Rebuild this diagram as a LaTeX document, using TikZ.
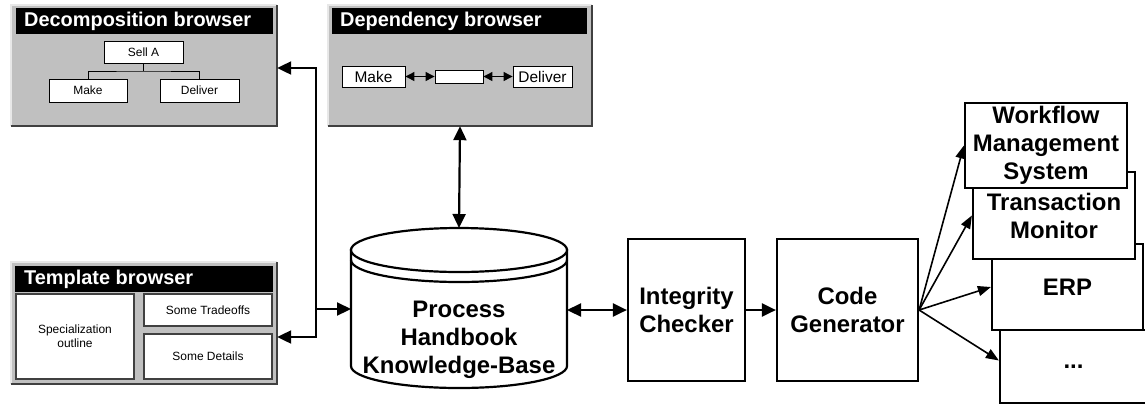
\documentclass[tikz,border=0pt]{standalone}
\usepackage{fontspec}
\setmainfont{Liberation Sans}
\usetikzlibrary{arrows.meta,calc}
\definecolor{wingray}{HTML}{C0C0C0}
\definecolor{darkedge}{HTML}{404040}
\definecolor{lightedge}{HTML}{E8E8E8}
\begin{document}
\begin{tikzpicture}[x=1bp,y=-1bp,
  win/.style={fill=wingray, draw=none, minimum width=266bp, minimum height=121bp, inner sep=0pt},
  ttl/.style={text=white, font=\fontsize{20}{24}\selectfont\bfseries, anchor=west, inner sep=0pt},
  small/.style={draw=black, fill=white, line width=0.9bp, inner sep=0pt, font=\fontsize{12}{14}\selectfont},
  mid/.style={draw=black, fill=white, line width=0.9bp, inner sep=0pt, font=\fontsize{15.5}{18}\selectfont},
  pane/.style={draw=darkedge, fill=white, line width=1.3bp, inner sep=0pt, font=\fontsize{12}{14}\selectfont, align=center},
  big/.style={draw=black, fill=white, line width=2.2bp, inner sep=0pt, align=center, font=\fontsize{24}{28}\selectfont\bfseries},
  bigtext/.style={inner sep=0pt, align=center, font=\fontsize{24}{28}\selectfont\bfseries},
  link/.style={line width=2.2bp, >={Triangle[length=14bp,width=13bp]}},
  fan/.style={line width=1.6bp, >={Triangle[length=13bp,width=10bp]}},
  dlink/.style={line width=1.2bp, >={Triangle[length=9bp,width=9bp]}}
]
\useasboundingbox (0,0) rectangle (1145,404);

% ---------- Decomposition browser ----------
\node[win] (decomp) at (144,65.5) {};
\draw[lightedge, line width=1.5bp] (decomp.south west) |- (decomp.north east);
\draw[darkedge, line width=2bp] (decomp.south west) -| (decomp.north east);
\fill[black] (16,8) rectangle (273,34);
\node[ttl] (decompT) at (24,21) {Decomposition browser};
\node[small, minimum width=79bp, minimum height=22bp] (sella) at (143.5,52) {Sell A};
\node[small, minimum width=78bp, minimum height=23bp] (make) at (88,90.5) {Make};
\node[small, minimum width=79bp, minimum height=23bp] (deliver) at (199.5,90.5) {Deliver};
\coordinate (tj) at (143.5,71);
\draw[line width=0.9bp] (sella.south) -- (tj);
\draw[line width=0.9bp] (make.north) |- (tj) -| (deliver.north);

% ---------- Dependency browser ----------
\node[win, minimum width=264bp] (dep) at (460,65.5) {};
\draw[lightedge, line width=1.5bp] (dep.south west) |- (dep.north east);
\draw[darkedge, line width=2bp] (dep.south west) -| (dep.north east);
\fill[black] (332,8) rectangle (587,34);
\node[ttl] (depT) at (340,21) {Dependency browser};
\node[mid, minimum width=63bp, minimum height=21bp] (dmake) at (373.5,76.5) {Make};
\node[mid, minimum width=48bp, minimum height=13bp] (dmid) at (459,76.5) {};
\node[mid, minimum width=59bp, minimum height=21bp] (ddeliver) at (542.5,76.5) {Deliver};
\draw[dlink, <->] (dmake.east) -- (dmid.west);
\draw[dlink, <->] (dmid.east) -- (ddeliver.west);

% ---------- Template browser ----------
\node[win, minimum height=122bp] (tmpl) at (144,323) {};
\draw[lightedge, line width=1.5bp] (tmpl.south west) |- (tmpl.north east);
\draw[darkedge, line width=2bp] (tmpl.south west) -| (tmpl.north east);
\fill[black] (15,266) rectangle (273,292);
\node[ttl] (tmplT) at (24,279) {Template browser};
\node[pane, minimum width=118bp, minimum height=85bp] (spec) at (75,336.5) {Specialization\\outline};
\node[pane, minimum width=128bp, minimum height=32bp] (trade) at (208,310) {Some Tradeoffs};
\node[pane, minimum width=128bp, minimum height=45bp] (details) at (208,356.5) {Some Details};

% ---------- Knowledge base cylinder ----------
\filldraw[fill=white, draw=black, line width=2.2bp]
  (351,250) -- (351,366) arc[start angle=180, end angle=360, x radius=108bp, y radius=22bp] -- (567,250) -- cycle;
\filldraw[fill=white, draw=black, line width=2.2bp] (459,250) ellipse [x radius=108bp, y radius=22bp];
\draw[line width=2.2bp] (351,260) arc[start angle=180, end angle=360, x radius=108bp, y radius=22bp];
\node[bigtext] (kb) at (459,340) {Process\\Handbook\\Knowledge-Base};
\coordinate (kbn) at (459,228);
\coordinate (kbw) at (351,309);
\coordinate (kbe) at (567,310);

% ---------- Integrity checker and code generator ----------
\node[big, minimum width=117bp, minimum height=142bp] (ic) at (686.5,310) {Integrity\\Checker};
\node[big, minimum width=141bp, minimum height=142bp] (cg) at (847.5,310) {Code\\Generator};

% ---------- Target systems ----------
\node[big, minimum width=147bp, minimum height=73bp] (dots) at (1073.5,366.5) {...};
\node[big, minimum width=151bp, minimum height=86bp] (erp) at (1067.5,287) {ERP};
\node[big, minimum width=162bp, minimum height=87bp] (tm) at (1054,215.5) {Transaction\\Monitor};
\node[big, minimum width=162bp, minimum height=85bp] (wf) at (1046,145.5) {Workflow\\Management\\System};

% ---------- Connectors ----------
\coordinate (jt) at (316,68);
\coordinate (jb) at (316,337);
\coordinate (jm) at (316,309);
\draw[link, <->] (decomp.east |- jt) -- (jt) -- (jb) -- (tmpl.east |- jb);
\draw[link, ->] (jm) -- (kbw);
\draw[link, <->] (dep.south) -- (kbn);
\draw[link, <->] (kbe) -- (ic.west);
\draw[link, ->] (ic.east) -- (cg.west);
\draw[fan, ->] (cg.east) -- (wf.west);
\draw[fan, ->] (cg.east) -- (tm.west);
\draw[fan, ->] (cg.east) -- (erp.west);
\draw[fan, ->] (cg.east) -- ([yshift=6bp]dots.west);
\end{tikzpicture}
\end{document}
